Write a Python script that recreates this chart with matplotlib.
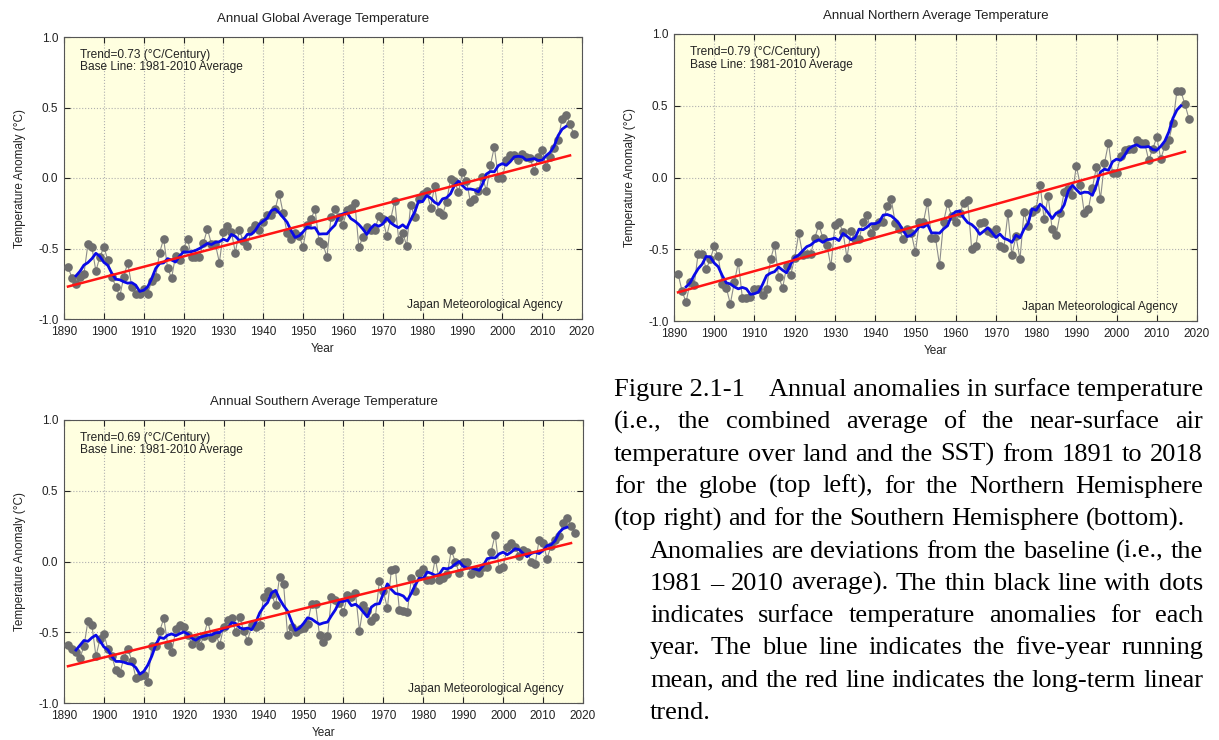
import numpy as np
import pandas as pd
import matplotlib
matplotlib.use("Agg")
import matplotlib.pyplot as plt
from matplotlib.ticker import FormatStrFormatter

plt.rcParams['font.family'] = ['Liberation Sans', 'DejaVu Sans']
plt.rcParams['axes.unicode_minus'] = False

# annual anomalies (degC, base 1981-2010), 1891-2018
years = np.arange(1891, 2019)

glob = [-0.63, -0.71, -0.75, -0.70, -0.68, -0.47, -0.49, -0.66, -0.56,
        -0.49, -0.58, -0.70, -0.77, -0.84, -0.70, -0.60, -0.77, -0.82, -0.82,
        -0.79, -0.82, -0.73, -0.70, -0.53, -0.43, -0.64, -0.71, -0.55, -0.58,
        -0.50, -0.43, -0.56, -0.56, -0.56, -0.46, -0.36, -0.47, -0.47, -0.60,
        -0.38, -0.34, -0.38, -0.53, -0.37, -0.45, -0.48, -0.37, -0.33, -0.37,
        -0.31, -0.26, -0.26, -0.22, -0.11, -0.25, -0.39, -0.43, -0.39, -0.41,
        -0.49, -0.33, -0.29, -0.22, -0.45, -0.47, -0.56, -0.28, -0.22, -0.28,
        -0.33, -0.23, -0.21, -0.18, -0.49, -0.42, -0.35, -0.37, -0.37, -0.27,
        -0.29, -0.41, -0.29, -0.16, -0.44, -0.39, -0.48, -0.19, -0.28, -0.15,
        -0.11, -0.09, -0.21, -0.06, -0.24, -0.26, -0.17, -0.01, -0.02, -0.10,
        0.04, -0.02, -0.17, -0.15, -0.09, 0.01, -0.09, 0.09, 0.22, 0.00,
        0.00, 0.13, 0.16, 0.16, 0.13, 0.17, 0.15, 0.14, 0.05, 0.15,
        0.20, 0.08, 0.15, 0.21, 0.27, 0.42, 0.45, 0.38, 0.31]

north = [-0.67, -0.79, -0.87, -0.73, -0.75, -0.53, -0.53, -0.64, -0.57,
         -0.48, -0.55, -0.74, -0.77, -0.88, -0.73, -0.59, -0.84, -0.84, -0.83,
         -0.78, -0.78, -0.82, -0.78, -0.57, -0.47, -0.69, -0.77, -0.62, -0.68,
         -0.56, -0.39, -0.54, -0.53, -0.53, -0.42, -0.33, -0.42, -0.47, -0.62,
         -0.33, -0.31, -0.38, -0.56, -0.37, -0.43, -0.43, -0.31, -0.26, -0.39,
         -0.34, -0.31, -0.31, -0.20, -0.15, -0.32, -0.36, -0.43, -0.36, -0.39,
         -0.52, -0.31, -0.31, -0.17, -0.42, -0.42, -0.61, -0.31, -0.18, -0.27,
         -0.31, -0.25, -0.18, -0.16, -0.50, -0.48, -0.32, -0.31, -0.37, -0.39,
         -0.36, -0.48, -0.49, -0.25, -0.54, -0.41, -0.57, -0.24, -0.34, -0.24,
         -0.22, -0.05, -0.29, -0.13, -0.36, -0.40, -0.25, -0.10, -0.08, -0.12,
         0.08, -0.05, -0.25, -0.22, -0.07, 0.07, -0.15, 0.10, 0.24, 0.03,
         0.03, 0.15, 0.19, 0.20, 0.20, 0.26, 0.24, 0.24, 0.12, 0.20,
         0.28, 0.13, 0.22, 0.26, 0.38, 0.60, 0.60, 0.51, 0.41]

south = [-0.59, -0.62, -0.64, -0.68, -0.60, -0.42, -0.45, -0.67, -0.55,
         -0.51, -0.62, -0.67, -0.77, -0.79, -0.68, -0.62, -0.70, -0.82, -0.81,
         -0.80, -0.85, -0.60, -0.60, -0.49, -0.40, -0.59, -0.64, -0.48, -0.45,
         -0.46, -0.52, -0.58, -0.55, -0.60, -0.53, -0.42, -0.54, -0.51, -0.59,
         -0.46, -0.41, -0.40, -0.50, -0.39, -0.49, -0.56, -0.45, -0.46, -0.45,
         -0.25, -0.21, -0.23, -0.31, -0.11, -0.16, -0.52, -0.46, -0.50, -0.48,
         -0.47, -0.44, -0.30, -0.30, -0.52, -0.57, -0.53, -0.25, -0.27, -0.29,
         -0.36, -0.24, -0.25, -0.22, -0.49, -0.31, -0.35, -0.42, -0.39, -0.14,
         -0.21, -0.33, -0.06, -0.05, -0.34, -0.35, -0.36, -0.12, -0.21, -0.08,
         -0.05, -0.13, -0.13, 0.02, -0.13, -0.12, -0.09, 0.08, 0.00, -0.08,
         0.00, 0.00, -0.09, -0.06, -0.08, -0.04, -0.04, 0.07, 0.19, -0.05,
         -0.04, 0.10, 0.13, 0.10, 0.04, 0.08, 0.07, 0.00, -0.02, 0.15,
         0.13, 0.02, 0.11, 0.15, 0.18, 0.27, 0.31, 0.25, 0.20]

# end points of the red trend lines
trend_years = [1891, 2017]
glob_trend = [-0.77, 0.16]
north_trend = [-0.80, 0.18]
south_trend = [-0.74, 0.13]

W, H = 1219, 740
fig = plt.figure(figsize=(W / 100, H / 100), dpi=100)


def px_rect(left, top, right, bottom):
    return [left / W, 1 - bottom / H, (right - left) / W, (bottom - top) / H]


def panel(rect, title, vals, trend, trend_txt):
    ax = fig.add_axes(rect)
    ax.set_facecolor('#ffffe0')
    ax.grid(color='#b0b0b0', linestyle=':', linewidth=0.8)
    ax.set_axisbelow(True)
    ax.plot(years, vals, color='#8c8c8c', lw=0.8, marker='o', ms=5.2,
            mfc='#6e6e6e', mec='#6e6e6e', zorder=3)
    # five-year running mean
    rm = pd.Series(vals).rolling(5, center=True).mean()
    ax.plot(years, rm, color='#0a0ae6', lw=2.0, zorder=4)
    ax.plot(trend_years, trend, color='#ff1414', lw=1.8, zorder=5)
    ax.set_xlim(1890, 2020)
    ax.set_ylim(-1, 1)
    ax.set_xticks(range(1890, 2021, 10))
    ax.set_yticks([-1, -0.5, 0, 0.5, 1])
    ax.yaxis.set_major_formatter(FormatStrFormatter('%.1f'))
    ax.tick_params(direction='in', top=True, right=True, length=4,
                   labelsize=8.5, colors='#222222')
    ax.tick_params(axis='x', pad=5)
    ax.tick_params(axis='y', pad=4)
    for s in ax.spines.values():
        s.set_color('#555555')
    ax.set_title(title, fontsize=9.5, pad=11, color='#222222')
    ax.set_xlabel('Year', fontsize=8.5, labelpad=4, color='#222222')
    ax.set_ylabel('Temperature Anomaly (°C)', fontsize=8.5, labelpad=9,
                  color='#222222')
    ax.text(0.031, 0.958, trend_txt + '\nBase Line: 1981-2010 Average',
            transform=ax.transAxes, fontsize=8.6, va='top', ha='left',
            linespacing=1.05, color='#222222')
    ax.text(0.963, 0.05, 'Japan Meteorological Agency', transform=ax.transAxes,
            fontsize=8.6, va='center', ha='right', color='#222222')
    return ax


panel(px_rect(64, 37, 582, 319), 'Annual Global Average Temperature',
      glob, glob_trend, 'Trend=0.73 (°C/Century)')
panel(px_rect(674, 34, 1197, 321), 'Annual Northern Average Temperature',
      north, north_trend, 'Trend=0.79 (°C/Century)')
panel(px_rect(64, 420, 583, 703), 'Annual Southern Average Temperature',
      south, south_trend, 'Trend=0.69 (°C/Century)')

# caption, justified line by line
renderer = fig.canvas.get_renderer()
cap_font = dict(family='Liberation Serif', size=19, color='black',
                va='baseline', ha='left')


def caption_line(text, x0, x1, ybase, justify=True):
    words = text.split(' ')
    ts = [fig.text(0, 1 - ybase / H, w, **cap_font) for w in words]
    widths = [t.get_window_extent(renderer).width for t in ts]
    if justify and len(words) > 1:
        gap = (x1 - x0 - sum(widths)) / (len(words) - 1)
    else:
        sp = fig.text(0, 0, 'a b', **cap_font)
        sp2 = fig.text(0, 0, 'ab', **cap_font)
        gap = sp.get_window_extent(renderer).width - sp2.get_window_extent(renderer).width
        sp.remove()
        sp2.remove()
    x = x0
    for t, w in zip(ts, widths):
        t.set_x(x / W)
        x += w + gap


fig.text(614 / W, 1 - 396 / H, 'Figure 2.1-1', **cap_font)
fig.text(1203 / W, 1 - 396 / H, 'Annual anomalies in surface temperature',
         **dict(cap_font, ha='right'))
lines = [
    ('(i.e., the combined average of the near-surface air', 614, True),
    ('temperature over land and the SST) from 1891 to 2018', 614, True),
    ('for the globe (top left), for the Northern Hemisphere', 614, True),
    ('(top right) and for the Southern Hemisphere (bottom).', 614, False),
    ('Anomalies are deviations from the baseline (i.e., the', 650, True),
    ('1981 – 2010 average). The thin black line with dots', 650, True),
    ('indicates surface temperature anomalies for each', 650, True),
    ('year. The blue line indicates the five-year running', 650, True),
    ('mean, and the red line indicates the long-term linear', 650, True),
    ('trend.', 650, False),
]
for i, (txt, x0, just) in enumerate(lines):
    caption_line(txt, x0, 1203, 396 + 32.3 * (i + 1), just)

fig.savefig('out.png', dpi=100)
